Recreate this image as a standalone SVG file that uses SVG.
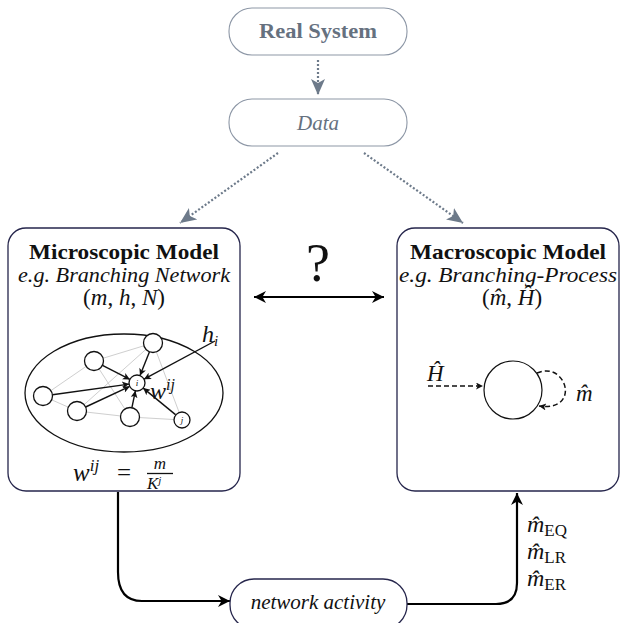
<svg xmlns="http://www.w3.org/2000/svg" width="626" height="623" viewBox="0 0 626 623">
<defs>
<style>
.top{fill:#fff;stroke:#8d97a6;stroke-width:1.1}
.toptxt{font-family:"Liberation Serif",serif;fill:#66717f;text-anchor:middle}
.model{fill:#fff;stroke:#26264c;stroke-width:1.3}
.t{font-family:"Liberation Serif",serif;fill:#111}
.it{font-style:italic}
.dot{stroke:#6d7a8a;stroke-width:2.2;stroke-dasharray:2 2;fill:none}
.gray{stroke:#cfcfcf;stroke-width:1;fill:none}
.blk{stroke:#111;stroke-width:1.4;fill:none}
.node{fill:#fff;stroke:#111;stroke-width:1.3}
.conn{stroke:#000;stroke-width:2.2;fill:none}
</style>
<marker id="ga" viewBox="0 0 16 14" refX="16" refY="7" markerWidth="16" markerHeight="14" markerUnits="userSpaceOnUse" orient="auto">
<path d="M0,0 L16,7 L0,14 L4,7 Z" fill="#6d7a8a"/>
</marker>
<marker id="ba" viewBox="0 0 10 10" refX="10" refY="5" markerWidth="15" markerHeight="12" markerUnits="userSpaceOnUse" orient="auto-start-reverse">
<path d="M0,0 L10,5 L0,10 L3,5 Z" fill="#000"/>
</marker>
<marker id="sa" viewBox="0 0 10 10" refX="10" refY="5" markerWidth="8" markerHeight="7" markerUnits="userSpaceOnUse" orient="auto">
<path d="M0,0 L10,5 L0,10 L2.5,5 Z" fill="#111"/>
</marker>
</defs>

<g id="connectors">
<line class="dot" x1="318" y1="60" x2="318" y2="95" marker-end="url(#ga)"/>
<line class="dot" x1="278" y1="153" x2="180" y2="223" marker-end="url(#ga)"/>
<line class="dot" x1="364" y1="153" x2="463" y2="223" marker-end="url(#ga)"/>
<line class="conn" x1="254" y1="297" x2="384" y2="297" marker-start="url(#ba)" marker-end="url(#ba)"/>
<path class="conn" d="M118,492 V572 Q118,601 142,601 H230" marker-end="url(#ba)"/>
<path class="conn" d="M407,604 H496 Q517,604 517,583 V493" marker-end="url(#ba)"/>
</g>

<g id="real-system">
<rect class="top" x="229" y="8" width="178" height="47" rx="23"/>
<text class="toptxt" x="318" y="38" font-size="20" font-weight="bold" textLength="118" lengthAdjust="spacingAndGlyphs">Real System</text>
</g>

<g id="data">
<rect class="top" x="229" y="99" width="178" height="47" rx="23"/>
<text class="toptxt it" x="318" y="130" font-size="21">Data</text>
</g>

<g id="question">
<text class="t" x="318" y="281" font-size="54" text-anchor="middle">?</text>
</g>

<g id="microscopic-model">
<rect class="model" x="8" y="228" width="232" height="263" rx="18"/>
<text class="t" x="124" y="259" font-size="21" font-weight="bold" text-anchor="middle" textLength="190" lengthAdjust="spacingAndGlyphs">Microscopic Model</text>
<text class="t it" x="124" y="282" font-size="20" text-anchor="middle" textLength="212" lengthAdjust="spacingAndGlyphs">e.g. Branching Network</text>
<text class="t" x="124" y="305" font-size="23" text-anchor="middle">(<tspan class="it">m</tspan>, <tspan class="it">h</tspan>, <tspan class="it">N</tspan>)</text>
<ellipse cx="124" cy="393" rx="99" ry="59" fill="none" stroke="#111" stroke-width="1.3"/>
<g id="edges-gray">
<line class="gray" x1="94" y1="361" x2="153" y2="343"/>
<line class="gray" x1="43" y1="396" x2="94" y2="361"/>
<line class="gray" x1="43" y1="396" x2="77" y2="411"/>
<line class="gray" x1="77" y1="411" x2="130" y2="417"/>
<line class="gray" x1="130" y1="417" x2="182" y2="420"/>
<line class="gray" x1="153" y1="343" x2="182" y2="420"/>
<line class="gray" x1="153" y1="343" x2="77" y2="411"/>
<line class="gray" x1="94" y1="361" x2="130" y2="417"/>
</g>
<g id="edges-black">
<line class="blk" x1="102.5" y1="365.3" x2="129.9" y2="379.4" marker-end="url(#sa)"/>
<line class="blk" x1="149.5" y1="351.8" x2="140.0" y2="375.6" marker-end="url(#sa)"/>
<line class="blk" x1="52.4" y1="394.7" x2="129.1" y2="384.1" marker-end="url(#sa)"/>
<line class="blk" x1="85.6" y1="407.0" x2="129.8" y2="386.4" marker-end="url(#sa)"/>
<line class="blk" x1="131.9" y1="407.7" x2="135.4" y2="390.8" marker-end="url(#sa)"/>
<line class="blk" x1="175.8" y1="414.9" x2="143.2" y2="388.1" marker-end="url(#sa)"/>
<line class="blk" x1="215" y1="341" x2="144.0" y2="379.2" marker-end="url(#sa)"/>
</g>
<circle class="node" cx="153" cy="343" r="9.5"/>
<circle class="node" cx="94" cy="361" r="9.5"/>
<circle class="node" cx="43" cy="396" r="9.5"/>
<circle class="node" cx="77" cy="411" r="9.5"/>
<circle class="node" cx="130" cy="417" r="9.5"/>
<circle class="node" cx="137" cy="383" r="8"/>
<circle class="node" cx="182" cy="420" r="8"/>
<text class="t it" x="137" y="386" font-size="9" text-anchor="middle">i</text>
<text class="t it" x="182" y="423" font-size="9" text-anchor="middle">j</text>
<text class="t it" x="202" y="342" font-size="24">h<tspan font-size="15" dy="4">i</tspan></text>
<text class="t it" x="150" y="399" font-size="24">w<tspan font-size="16" dy="-9">ij</tspan></text>
<text class="t it" x="73" y="481" font-size="25">w<tspan font-size="17" dy="-10">ij</tspan></text>
<text class="t" x="124" y="481" font-size="25" text-anchor="middle">=</text>
<text class="t it" x="160" y="469" font-size="17" text-anchor="middle">m</text>
<line x1="147" y1="473.5" x2="173" y2="473.5" stroke="#111" stroke-width="1.3"/>
<text class="t it" x="147" y="489" font-size="17">K<tspan font-size="11" dy="-5">j</tspan></text>
</g>

<g id="macroscopic-model">
<rect class="model" x="397" y="228" width="222" height="263" rx="18"/>
<text class="t" x="508" y="259" font-size="21" font-weight="bold" text-anchor="middle" textLength="196" lengthAdjust="spacingAndGlyphs">Macroscopic Model</text>
<text class="t it" x="508" y="282" font-size="20" text-anchor="middle" textLength="218" lengthAdjust="spacingAndGlyphs">e.g. Branching-Process</text>
<text class="t" x="512" y="305" font-size="23" text-anchor="middle">(<tspan class="it">m̂</tspan>, <tspan class="it">Ĥ</tspan>)</text>
<circle cx="513" cy="390" r="29" fill="#fff" stroke="#111" stroke-width="1.2"/>
<path d="M428,386 H483" stroke="#111" stroke-width="1.5" stroke-dasharray="5 3" fill="none" marker-end="url(#sa)"/>
<path d="M537,373 C566,360 582,412 539,406" stroke="#111" stroke-width="1.5" stroke-dasharray="5 3" fill="none" marker-end="url(#sa)"/>
<text class="t it" x="427" y="381" font-size="23">Ĥ</text>
<text class="t it" x="576" y="401" font-size="23">m̂</text>
</g>

<g id="network-activity">
<rect x="230" y="579" width="177" height="50" rx="24" fill="#fff" stroke="#26264c" stroke-width="1.3"/>
<text class="t it" x="318" y="609" font-size="21" text-anchor="middle">network activity</text>
</g>

<g id="estimators">
<text class="t it" x="527" y="532" font-size="24">m̂<tspan font-style="normal" font-size="17" dy="4">EQ</tspan></text>
<text class="t it" x="527" y="559" font-size="24">m̂<tspan font-style="normal" font-size="17" dy="4">LR</tspan></text>
<text class="t it" x="527" y="586" font-size="24">m̂<tspan font-style="normal" font-size="17" dy="4">ER</tspan></text>
</g>
</svg>
